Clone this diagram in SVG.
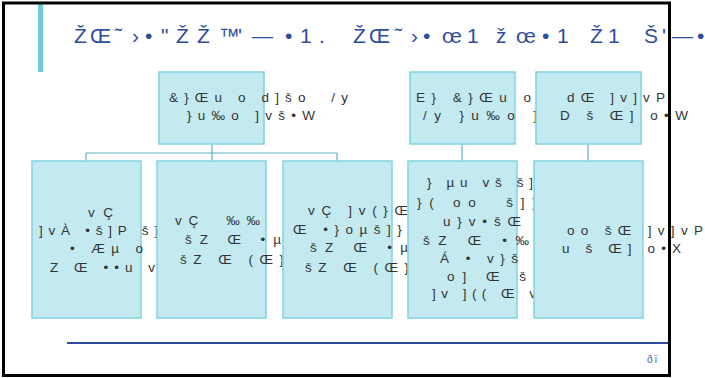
<svg xmlns="http://www.w3.org/2000/svg" width="705" height="378" viewBox="0 0 705 378">
<style>
.box{fill:#c4eaf1;stroke:#80d2e2;stroke-width:1.5}
.t{font-family:"Liberation Sans Narrow","Liberation Sans",Arial,sans-serif;font-size:13.5px;fill:#333333;white-space:pre}
.title{font-family:"Liberation Sans Narrow","Liberation Sans",Arial,sans-serif;font-size:21px;fill:#2d4e9e}
.conn{fill:none;stroke:#5fb0bf;stroke-width:1.2}
</style>
<rect x="0" y="0" width="705" height="378" fill="#ffffff"/>
<rect x="38" y="3" width="5" height="69" fill="#6ccbdc"/>
<text class="title" x="74 90 115 132 145 161 176 197 219 238 252 285 300 319 353 369 395 411 423 442 467 496 516 542 557 590 608 644 662 672 697" y="43">ŽŒ˜›•"ŽŽ™'—•1.ŽŒ˜›•œ1žœ•1Ž1Š'—•</text>
<g id="connectors">
<path class="conn" d="M212 144V153M86 153H337M86 153V161M212 153V161M337 153V161M462 144V161M588 144V161"/>
</g>
<g id="nodeA">
<rect class="box" x="159" y="72" width="105" height="72"/>
<text class="t" x="169" y="102" textLength="179" lengthAdjust="spacing">&amp;}Œu o d]šo  /y</text>
<text class="t" x="187" y="120" textLength="128" lengthAdjust="spacing">}u‰o ]vš•W</text>
</g>
<g id="nodeB">
<rect class="box" x="410" y="72" width="105" height="72"/>
<text class="t" x="416" y="102" textLength="115" lengthAdjust="spacing">E} &amp;}Œu o</text>
<text class="t" x="423" y="120" textLength="114" lengthAdjust="spacing">/y }u‰o ]</text>
</g>
<g id="nodeC">
<rect class="box" x="536" y="72" width="105" height="72"/>
<text class="t" x="567" y="102" textLength="98" lengthAdjust="spacing">dŒ ]v]vP</text>
<text class="t" x="560" y="120" textLength="128" lengthAdjust="spacing">D š Œ] o•W</text>
</g>
<g id="nodeD">
<rect class="box" x="32" y="161" width="109" height="157"/>
<text class="t" x="88" y="217" textLength="25" lengthAdjust="spacing">vÇ</text>
<text class="t" x="39" y="235" textLength="119" lengthAdjust="spacing">]vÀ •š]P š]</text>
<text class="t" x="70" y="253" textLength="73" lengthAdjust="spacing">• Æµ o</text>
<text class="t" x="50" y="272" textLength="105" lengthAdjust="spacing">Z Œ ••u v</text>
</g>
<g id="nodeE">
<rect class="box" x="157" y="161" width="109" height="157"/>
<text class="t" x="175" y="225" textLength="85" lengthAdjust="spacing">vÇ  ‰‰</text>
<text class="t" x="185" y="244" textLength="96" lengthAdjust="spacing">šZ Œ •µ</text>
<text class="t" x="180" y="264" textLength="104" lengthAdjust="spacing">šZ Œ (Œ}</text>
</g>
<g id="nodeF">
<rect class="box" x="283" y="161" width="109" height="157"/>
<text class="t" x="308" y="215" textLength="100" lengthAdjust="spacing">vÇ ]v(}Œ</text>
<text class="t" x="293" y="234" textLength="122" lengthAdjust="spacing">Œ •}oµš]}v</text>
<text class="t" x="310" y="252" textLength="98" lengthAdjust="spacing">šZ Œ •µ</text>
<text class="t" x="305" y="272" textLength="104" lengthAdjust="spacing">šZ Œ (Œ}</text>
</g>
<g id="nodeG">
<rect class="box" x="408" y="161" width="109" height="157"/>
<text class="t" x="427" y="187" textLength="106" lengthAdjust="spacing">} µu vš š]</text>
<text class="t" x="417" y="207" textLength="119" lengthAdjust="spacing">}( oo  š]]</text>
<text class="t" x="443" y="226" textLength="78" lengthAdjust="spacing">u}v•šŒ</text>
<text class="t" x="423" y="245" textLength="106" lengthAdjust="spacing">šZ Œ •‰</text>
<text class="t" x="440" y="263" textLength="78" lengthAdjust="spacing">Á • v}š</text>
<text class="t" x="447" y="281" textLength="79" lengthAdjust="spacing">o] Œ š</text>
<text class="t" x="432" y="298" textLength="104" lengthAdjust="spacing">]v ](( Œ v</text>
</g>
<g id="nodeH">
<rect class="box" x="534" y="161" width="109" height="157"/>
<text class="t" x="567" y="235" textLength="136" lengthAdjust="spacing">oo šŒ ]v]vP</text>
<text class="t" x="562" y="253" textLength="119" lengthAdjust="spacing">u š Œ] o•X</text>
</g>
<line x1="67" y1="343" x2="671" y2="343" stroke="#2d4e9e" stroke-width="2"/>
<text x="647" y="363" style="font-family:'Liberation Sans',Arial,sans-serif;font-size:10px;fill:#3a5aa8;letter-spacing:2px">ðï</text>
<rect x="3.5" y="3" width="666" height="372.5" fill="none" stroke="#000000" stroke-width="3"/>
</svg>
